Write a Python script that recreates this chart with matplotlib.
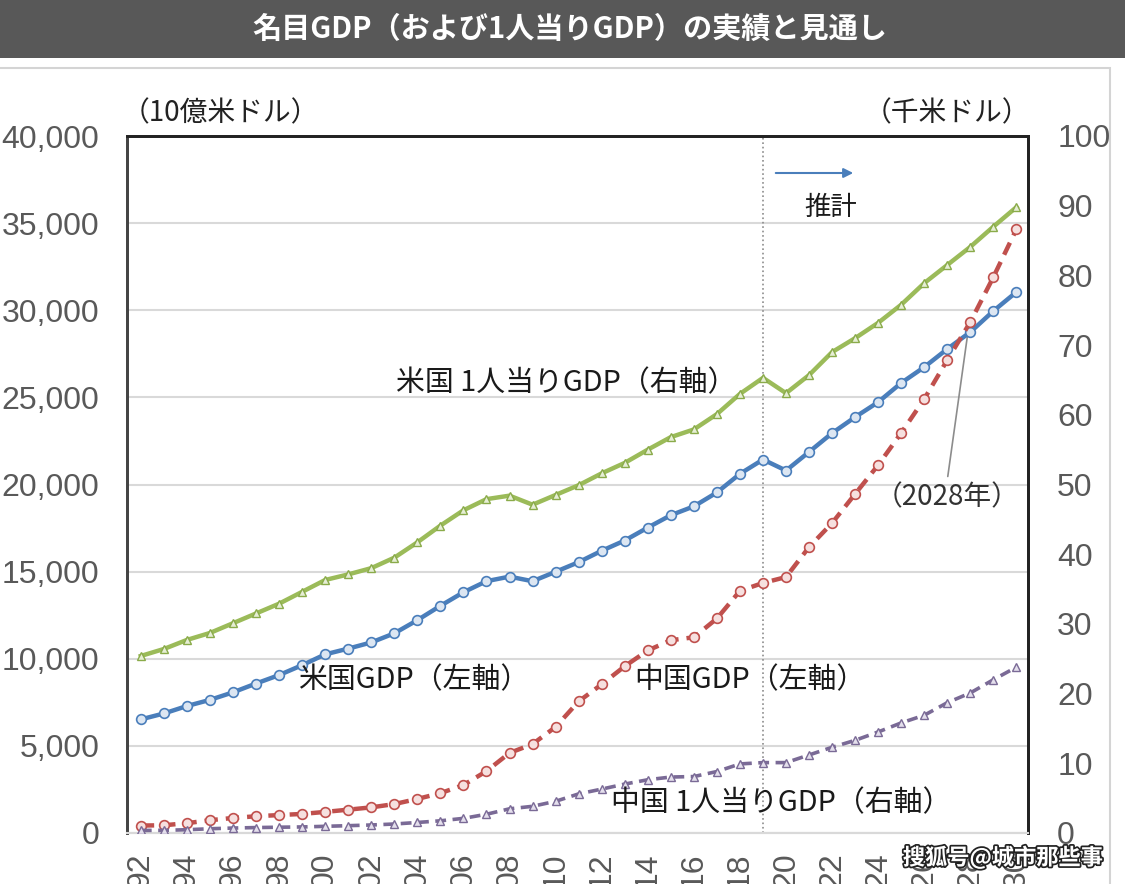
import numpy as np
import matplotlib
matplotlib.use('Agg')
import matplotlib.pyplot as plt
from matplotlib.patches import Rectangle
import matplotlib.patheffects as pe

plt.rcParams['font.family'] = ['Noto Sans CJK JP', 'DejaVu Sans']

years = list(range(1992, 2031))

# 米国GDP（10億米ドル, 左軸）
us_gdp = [6520, 6859, 7287, 7640, 8073, 8578, 9063, 9631, 10252, 10582,
          10936, 11458, 12214, 13037, 13815, 14452, 14713, 14449, 14992, 15543,
          16197, 16785, 17527, 18238, 18745, 19543, 20612, 21433, 20800, 21870,
          22950, 23870, 24730, 25830, 26740, 27780, 28750, 29960, 31050]
# 中国GDP（10億米ドル, 左軸）
cn_gdp = [427, 444, 564, 734, 863, 961, 1029, 1094, 1211, 1339,
          1471, 1660, 1955, 2286, 2752, 3550, 4594, 5102, 6087, 7552,
          8532, 9570, 10476, 11062, 11233, 12310, 13895, 14350, 14690, 16410,
          17790, 19460, 21120, 22960, 24910, 27150, 29330, 31910, 34660]
# 米国 1人当りGDP（千米ドル, 右軸）
us_pc = [25.4, 26.4, 27.7, 28.7, 30.1, 31.5, 32.9, 34.6, 36.3, 37.1,
         38.0, 39.5, 41.7, 44.1, 46.3, 47.9, 48.4, 47.1, 48.5, 49.9,
         51.6, 53.1, 55.0, 56.8, 57.9, 60.1, 63.0, 65.3, 63.1, 65.7,
         69.0, 71.0, 73.2, 75.8, 78.9, 81.5, 84.1, 87.0, 89.8]
# 中国 1人当りGDP（千米ドル, 右軸）
cn_pc = [0.37, 0.38, 0.47, 0.61, 0.71, 0.78, 0.83, 0.87, 0.96, 1.05,
         1.15, 1.29, 1.51, 1.75, 2.10, 2.69, 3.47, 3.83, 4.55, 5.61,
         6.30, 7.02, 7.64, 8.03, 8.10, 8.82, 9.91, 10.1, 10.1, 11.2,
         12.3, 13.3, 14.5, 15.8, 16.9, 18.7, 20.1, 22.0, 23.8]

left_ticks = list(range(0, 40001, 5000))
right_ticks = list(range(0, 101, 10))
x_ticks = list(range(1992, 2031, 2))
forecast_start = 2019

W, H = 1125, 884
fig = plt.figure(figsize=(W / 100, H / 100), dpi=100)


def fx(x):
    return x / W


def fy(y):
    return 1 - y / H


# 見出し帯と枠
fig.patches.append(Rectangle((0, fy(58)), 1, 58 / H, transform=fig.transFigure,
                             facecolor='#585858', edgecolor='none', zorder=0))
fig.patches.append(Rectangle((fx(-5), fy(900)), fx(1115), (900 - 68) / H,
                             transform=fig.transFigure, facecolor='none',
                             edgecolor='#d4d4d4', lw=1.5, zorder=0))
fig.text(fx(570), fy(29), '名目GDP（および1人当りGDP）の実績と見通し', color='white',
         fontsize=21, fontweight='bold', ha='center', va='center')

ax = fig.add_axes([fx(127), fy(833), fx(1028 - 127), (833 - 136) / H])
ax2 = ax.twinx()

tick_font = dict(family='Liberation Sans', size=23, color='#595959')

ax.plot(years, us_gdp, color='#4a7ebb', lw=3.2, marker='o', ms=7,
        mfc='#dce6f2', mec='#4a7ebb', mew=1.2, zorder=4)
ax.plot(years, cn_gdp, color='#c0504d', lw=3.2, ls=(0, (3, 1.8)), marker='o', ms=7,
        mfc='#f6e0df', mec='#c0504d', mew=1.2, zorder=4)
ax2.plot(years, us_pc, color='#9bbb59', lw=3.2, marker='^', ms=6,
         mfc='#e6eed5', mec='#8aab4a', mew=1.0, zorder=4)
ax2.plot(years, cn_pc, color='#7a6a96', lw=2.6, ls=(0, (3, 1.8)), marker='^', ms=6,
         mfc='#e4dfec', mec='#7a6a96', mew=1.0, zorder=4)

ax.set_xlim(1991.4, 2030.5)
ax.set_ylim(0, 40000)
ax2.set_ylim(0, 100)
ax.set_yticks(left_ticks)
ax.set_yticklabels([f'{v:,}' for v in left_ticks], **tick_font)
ax2.set_yticks(right_ticks)
ax2.set_yticklabels([str(v) for v in right_ticks], **tick_font)
ax.set_xticks(x_ticks)
ax.set_xticklabels([f'{y % 100:02d}' for y in x_ticks], rotation=90, va='top', **tick_font)
ax.tick_params(axis='y', length=0, pad=20)
ax.tick_params(axis='x', length=0, pad=14)
ax2.tick_params(axis='y', length=0, pad=21)

ax.grid(axis='y', color='#d9d9d9', lw=1.5)
ax.set_axisbelow(True)
for a in (ax, ax2):
    a.spines['bottom'].set_color('#d9d9d9')
    a.spines['bottom'].set_linewidth(1.5)
    a.spines['top'].set_color('#222222')
    a.spines['top'].set_linewidth(2)
    a.spines['left'].set_color('#444444')
    a.spines['left'].set_linewidth(2)
    a.spines['right'].set_color('#222222')
    a.spines['right'].set_linewidth(2)

ax.axvline(forecast_start, color='#8c8c8c', lw=1.2, ls=':', zorder=2)

# 単位
fig.text(fx(122), fy(113), '（10億米ドル）', fontsize=20, ha='left', va='center', color='#222222')
fig.text(fx(1030), fy(113), '（千米ドル）', fontsize=20, ha='right', va='center', color='#222222')

# 系列ラベル
lab = dict(fontsize=20.8, ha='center', va='center', color='#1a1a1a', zorder=6)
fig.text(fx(566), fy(383), '米国 1人当りGDP（右軸）', **lab)
fig.text(fx(414), fy(680), '米国GDP（左軸）', **lab)
fig.text(fx(750), fy(680), '中国GDP（左軸）', **lab)
fig.text(fx(781), fy(803), '中国 1人当りGDP（右軸）', **lab)

# 推計
fig.text(fx(831), fy(207), '推計', fontsize=19, ha='center', va='center', color='#1a1a1a')
ax.annotate('', xy=(fx(856), fy(173)), xytext=(fx(773), fy(173)),
            xycoords='figure fraction', textcoords='figure fraction',
            arrowprops=dict(arrowstyle='-|>', color='#4a7ebb', lw=1.5, mutation_scale=14))

# 中国GDPが米国GDPを上回る年
ax.annotate('（2028年）', xy=(2027.9, 28800), xytext=(fx(947), fy(497)),
            textcoords='figure fraction', fontsize=20, ha='center', va='center',
            color='#333333',
            arrowprops=dict(arrowstyle='-', color='#8c8c8c', lw=1.2,
                            relpos=(0.5, 1.0), shrinkA=2, shrinkB=0))

# 透かし
fig.text(fx(1003), fy(858), '搜狐号@城市那些事', family=['Noto Sans CJK SC', 'DejaVu Sans'],
         fontsize=16, fontweight='bold', color='white', ha='center', va='center', zorder=10,
         path_effects=[pe.withStroke(linewidth=2.5, foreground='#222222')])

fig.savefig('out.png', dpi=100)
